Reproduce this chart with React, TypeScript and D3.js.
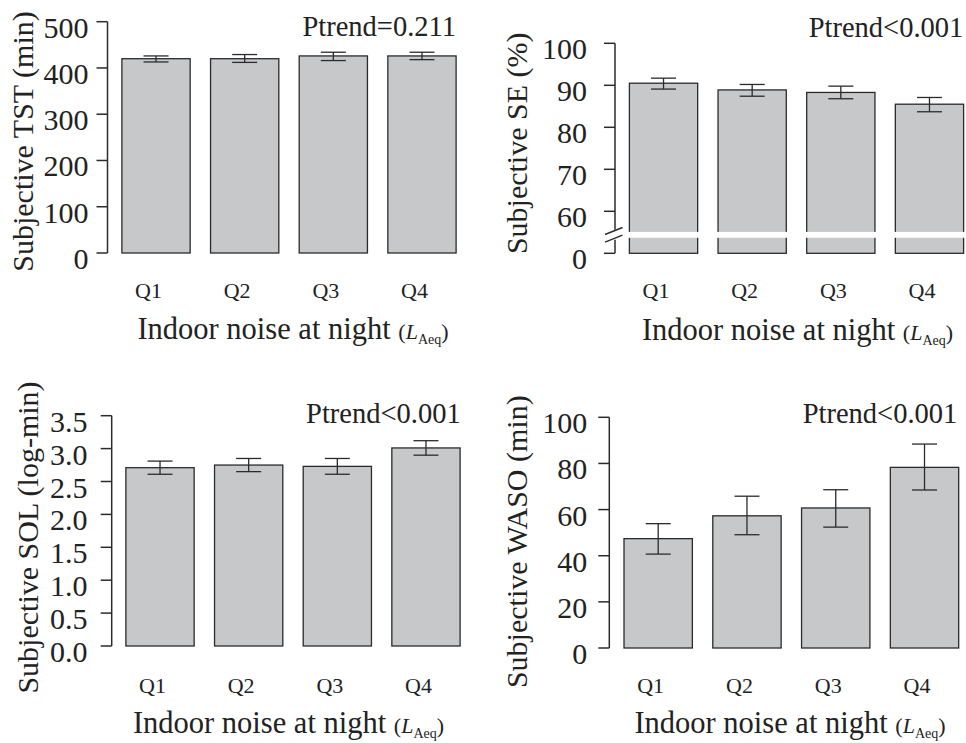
import React from "react";
import * as d3 from "d3";

const quartiles = ["Q1", "Q2", "Q3", "Q4"];

const tstMean = [420, 420, 426, 426];
const tstLo = [413, 412, 416, 418];
const tstHi = [426, 429, 434, 434];
const tstTicks = [0, 100, 200, 300, 400, 500];

const seMean = [90.5, 88.9, 88.3, 85.5];
const seLo = [89.1, 87.4, 86.8, 83.7];
const seHi = [91.7, 90.2, 89.8, 87.1];
const seTicks = [60, 70, 80, 90, 100];

const solMean = [2.71, 2.75, 2.73, 3.01];
const solLo = [2.61, 2.65, 2.61, 2.9];
const solHi = [2.81, 2.85, 2.85, 3.12];
const solTicks = [0, 0.5, 1, 1.5, 2, 2.5, 3, 3.5];

const wasoMean = [47.4, 57.3, 60.7, 78.3];
const wasoLo = [40.7, 49.1, 52.4, 68.5];
const wasoHi = [53.9, 65.8, 68.6, 88.4];
const wasoTicks = [0, 20, 40, 60, 80, 100];

const FONT = "'Liberation Serif', 'Times New Roman', serif";
const INK = "#2b2b2b";
const FILL = "#c7c8ca";

type Cfg = {
  mean: number[];
  lo: number[];
  hi: number[];
  ticks: number[];
  fmt: (v: number) => string;
  domain: [number, number];
  yRange: [number, number];
  xRange: [number, number];
  axisX: number;
  tickLabelX: number;
  yTitle: string;
  yTitleX: number;
  yTitleY: number;
  ptrend: string;
  ptrendX: number;
  ptrendY: number;
  qY: number;
  titleX: number;
  titleY: number;
  broken?: boolean;
};

function Panel({ c }: { c: Cfg }) {
  const y = d3.scaleLinear().domain(c.domain).range(c.yRange);
  const x = d3
    .scaleBand()
    .domain(quartiles)
    .range(c.xRange)
    .paddingInner(0.23)
    .paddingOuter(0.115);
  const base = c.domain[0];
  const bw = x.bandwidth();
  const tickVals = c.broken ? [base, ...c.ticks] : c.ticks;
  const axisTop = y(c.domain[1]);
  const axisBottom = y(base);

  return (
    <g>
      {/* bars */}
      {quartiles.map((q, i) => (
        <rect
          key={q}
          x={x(q)}
          y={y(c.mean[i])}
          width={bw}
          height={y(base) - y(c.mean[i])}
          fill={FILL}
          stroke={INK}
          strokeWidth={1.3}
        />
      ))}
      {c.broken && (
        <rect
          x={(x(quartiles[0]) ?? 0) - 3}
          y={y(55.1)}
          width={c.xRange[1] - c.xRange[0]}
          height={y(53.7) - y(55.1)}
          fill="#fff"
        />
      )}
      {/* error bars */}
      {quartiles.map((q, i) => {
        const cx = (x(q) ?? 0) + bw / 2;
        return (
          <g key={q} stroke={INK} strokeWidth={1.3}>
            <line x1={cx} x2={cx} y1={y(c.hi[i])} y2={y(c.lo[i])} />
            <line x1={cx - 12.5} x2={cx + 12.5} y1={y(c.hi[i])} y2={y(c.hi[i])} />
            <line x1={cx - 12.5} x2={cx + 12.5} y1={y(c.lo[i])} y2={y(c.lo[i])} />
          </g>
        );
      })}
      {/* y axis */}
      {c.broken ? (
        <g stroke={INK} strokeWidth={1.5}>
          <line x1={c.axisX} x2={c.axisX} y1={axisTop} y2={y(55.6)} />
          <line x1={c.axisX} x2={c.axisX} y1={y(53.2)} y2={axisBottom} />
          <line x1={c.axisX - 10} x2={c.axisX + 7.5} y1={y(55.3) + 3.5} y2={y(55.3) - 3.5} />
          <line x1={c.axisX - 10} x2={c.axisX + 7.5} y1={y(53.5) + 3.5} y2={y(53.5) - 3.5} />
        </g>
      ) : (
        <line x1={c.axisX} x2={c.axisX} y1={axisTop} y2={axisBottom} stroke={INK} strokeWidth={1.5} />
      )}
      {tickVals.map((t) => (
        <g key={t}>
          <line x1={c.axisX - 11} x2={c.axisX} y1={y(t)} y2={y(t)} stroke={INK} strokeWidth={1.5} />
          <text
            x={c.tickLabelX}
            y={y(t) + 5.5}
            textAnchor="end"
            dominantBaseline="central"
            fontSize={30}
            fill="#222"
          >
            {c.broken && t === base ? "0" : c.fmt(t)}
          </text>
        </g>
      ))}
      <text
        transform={`translate(${c.yTitleX},${c.yTitleY}) rotate(-90)`}
        textAnchor="middle"
        fontSize={30}
        fill="#222"
      >
        {c.yTitle}
      </text>
      <text x={c.ptrendX} y={c.ptrendY} textAnchor="end" fontSize={28.5} fill="#222">
        {c.ptrend}
      </text>
      {/* x labels */}
      {quartiles.map((q) => (
        <text
          key={q}
          x={(x(q) ?? 0) + bw / 2 - 7.5}
          y={c.qY}
          textAnchor="middle"
          fontSize={22}
          fill="#222"
        >
          {q}
        </text>
      ))}
      <text x={c.titleX} y={c.titleY} textAnchor="middle" fill="#222">
        <tspan fontSize={30.5}>Indoor noise at night </tspan>
        <tspan fontSize={22}>(</tspan>
        <tspan fontSize={22} fontStyle="italic">L</tspan>
        <tspan fontSize={14} dy={5}>Aeq</tspan>
        <tspan fontSize={22} dy={-5}>)</tspan>
      </text>
    </g>
  );
}

const fmtInt = (v: number) => d3.format("d")(v);
const fmt1 = (v: number) => d3.format(".1f")(v);

const panels: Cfg[] = [
  {
    mean: tstMean, lo: tstLo, hi: tstHi, ticks: tstTicks, fmt: fmtInt,
    domain: [0, 500], yRange: [253, 21.7], xRange: [111.7, 466.3],
    axisX: 107.5, tickLabelX: 88.5,
    yTitle: "Subjective TST (min)", yTitleX: 33, yTitleY: 141.5,
    ptrend: "Ptrend=0.211", ptrendX: 456, ptrendY: 36,
    qY: 298.3, titleX: 293, titleY: 338.5,
  },
  {
    mean: seMean, lo: seLo, hi: seHi, ticks: seTicks, fmt: fmtInt,
    domain: [50, 100], yRange: [253.3, 43.3], xRange: [619.2, 973.8],
    axisX: 615, tickLabelX: 587,
    yTitle: "Subjective SE (%)", yTitleX: 526.7, yTitleY: 143.3,
    ptrend: "Ptrend<0.001", ptrendX: 963.3, ptrendY: 36.7,
    qY: 298.3, titleX: 797.5, titleY: 339.5, broken: true,
  },
  {
    mean: solMean, lo: solLo, hi: solHi, ticks: solTicks, fmt: fmt1,
    domain: [0, 3.5], yRange: [646, 415.7], xRange: [115.7, 470.3],
    axisX: 111.7, tickLabelX: 87.5,
    yTitle: "Subjective SOL (log-min)", yTitleX: 38, yTitleY: 537.5,
    ptrend: "Ptrend<0.001", ptrendX: 460.7, ptrendY: 422.7,
    qY: 693.3, titleX: 288.5, titleY: 733.3,
  },
  {
    mean: wasoMean, lo: wasoLo, hi: wasoHi, ticks: wasoTicks, fmt: fmtInt,
    domain: [0, 100], yRange: [648, 417.3], xRange: [613.8, 968.9],
    axisX: 609.3, tickLabelX: 587.3,
    yTitle: "Subjective WASO (min)", yTitleX: 527, yTitleY: 541.7,
    ptrend: "Ptrend<0.001", ptrendX: 957.3, ptrendY: 422.7,
    qY: 693.3, titleX: 790, titleY: 732.7,
  },
];

export default function App() {
  return (
    <svg
      width={966}
      height={743}
      style={{ position: "absolute", left: 0, top: 0, background: "#fff" }}
      fontFamily={FONT}
    >
      {panels.map((p, i) => (
        <Panel key={i} c={p} />
      ))}
    </svg>
  );
}
